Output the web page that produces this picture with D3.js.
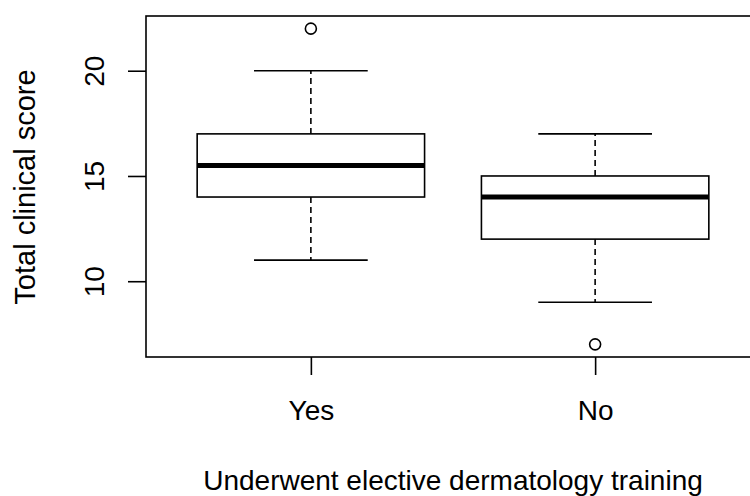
<!DOCTYPE html>
<meta charset="utf-8">
<style>
  body { margin: 0; background: #fff; }
  text { font-family: "Liberation Sans", Arial, sans-serif; fill: #000; }
</style>
<svg width="750" height="496"></svg>
<script src="https://d3js.org/d3.v7.min.js"></script>
<script>
  // box stats
  var groups = ["Yes", "No"];
  var lowerWhisker = [11, 9];
  var q1 = [14, 12];
  var median = [15.5, 14];
  var q3 = [17, 15];
  var upperWhisker = [20, 17];
  var outliers = [[22], [7]];
  var yTicks = [10, 15, 20];

  var svg = d3.select("svg");
  // R style: groups at 1 and 2, xlim 0.5..2.5 plus 4% (the right edge is cut off)
  var x = d3.scaleLinear().domain([0.42, 2.58]).range([146, 760]);
  var y = d3.scaleLinear().domain([6.4, 22.6]).range([357, 16]);
  var boxW = x(1.4) - x(0.6);
  var capW = boxW / 2;
  var lw = 1.6;
  var fs = "28px";

  var boxes = groups.map(function (g, i) {
    return { name: g, pos: i + 1, lo: lowerWhisker[i], q1: q1[i], med: median[i], q3: q3[i], hi: upperWhisker[i], out: outliers[i] };
  });

  var g = svg.selectAll("g.box").data(boxes).enter().append("g").attr("class", "box");

  // dashed whiskers
  [["q3", "hi"], ["q1", "lo"]].forEach(function (p) {
    g.append("line")
      .attr("x1", function (d) { return x(d.pos); })
      .attr("x2", function (d) { return x(d.pos); })
      .attr("y1", function (d) { return y(d[p[0]]); })
      .attr("y2", function (d) { return y(d[p[1]]); })
      .attr("stroke", "#000").attr("stroke-width", lw).attr("stroke-dasharray", "6,4");
  });

  // caps
  ["lo", "hi"].forEach(function (k) {
    g.append("line")
      .attr("x1", function (d) { return x(d.pos) - capW / 2; })
      .attr("x2", function (d) { return x(d.pos) + capW / 2; })
      .attr("y1", function (d) { return y(d[k]); })
      .attr("y2", function (d) { return y(d[k]); })
      .attr("stroke", "#000").attr("stroke-width", lw);
  });

  g.append("rect")
    .attr("x", function (d) { return x(d.pos) - boxW / 2; })
    .attr("width", boxW)
    .attr("y", function (d) { return y(d.q3); })
    .attr("height", function (d) { return y(d.q1) - y(d.q3); })
    .attr("fill", "#fff").attr("stroke", "#000").attr("stroke-width", lw);

  g.append("line")
    .attr("x1", function (d) { return x(d.pos) - boxW / 2; })
    .attr("x2", function (d) { return x(d.pos) + boxW / 2; })
    .attr("y1", function (d) { return y(d.med); })
    .attr("y2", function (d) { return y(d.med); })
    .attr("stroke", "#000").attr("stroke-width", 5);

  g.selectAll("circle").data(function (d) { return d.out.map(function (v) { return { pos: d.pos, v: v }; }); })
    .enter().append("circle")
    .attr("cx", function (d) { return x(d.pos); })
    .attr("cy", function (d) { return y(d.v); })
    .attr("r", 5.5).attr("fill", "none").attr("stroke", "#000").attr("stroke-width", lw);

  // frame
  svg.append("rect")
    .attr("x", x.range()[0]).attr("y", y.range()[1])
    .attr("width", x.range()[1] - x.range()[0])
    .attr("height", y.range()[0] - y.range()[1])
    .attr("fill", "none").attr("stroke", "#000").attr("stroke-width", lw);

  // axes
  var yAxis = svg.append("g").attr("transform", "translate(146,0)")
    .call(d3.axisLeft(y).tickValues(yTicks).tickSize(18).tickPadding(0).tickFormat(d3.format("d")));
  yAxis.select(".domain").remove();
  yAxis.selectAll("line").attr("stroke-width", lw);
  yAxis.selectAll("text")
    .attr("x", null).attr("dy", null)
    .attr("transform", "translate(-42,0) rotate(-90)")
    .attr("text-anchor", "middle")
    .style("font-size", fs);

  var xAxis = svg.append("g").attr("transform", "translate(0,357)")
    .call(d3.axisBottom(x).tickValues([1, 2]).tickSize(18).tickFormat(function (d) { return groups[d - 1]; }));
  xAxis.select(".domain").remove();
  xAxis.selectAll("line").attr("stroke-width", lw);
  xAxis.selectAll("text").attr("y", 63).attr("dy", null).style("font-size", fs);

  svg.append("text")
    .attr("x", (x.range()[0] + x.range()[1]) / 2).attr("y", 490)
    .attr("text-anchor", "middle")
    .style("font-size", fs)
    .text("Underwent elective dermatology training");

  svg.append("text")
    .attr("transform", "translate(35,187) rotate(-90)")
    .attr("text-anchor", "middle")
    .style("font-size", "29px")
    .text("Total clinical score");
</script>
